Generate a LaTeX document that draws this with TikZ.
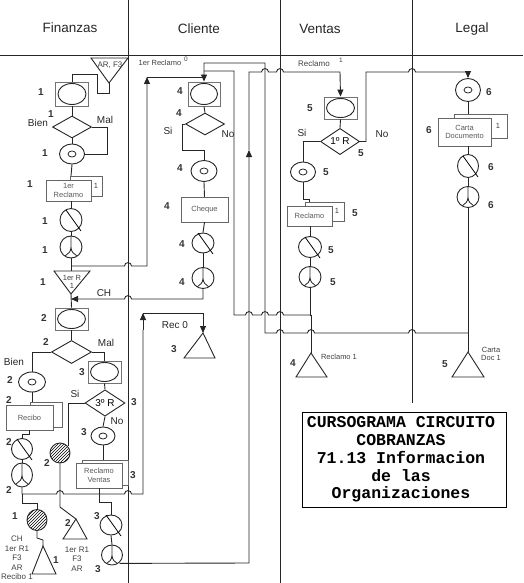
\documentclass[tikz,border=0pt]{standalone}
\usepackage{fontspec}
\setmainfont{Liberation Sans}
\newfontfamily\titlefont{Liberation Mono}
\usetikzlibrary{shapes.geometric,patterns,arrows.meta}
\tikzset{
  ln/.style={line width=0.9pt, draw=black!85},
  lane/.style={line width=0.9pt, draw=black!85},
  tip/.style={-{Triangle[length=7pt,width=6pt]}},
  lbl/.style={font=\bfseries\fontsize{10}{10}\selectfont, text=black!80, inner sep=0},
  txt/.style={font=\fontsize{10}{10}\selectfont, text=black!85, inner sep=0},
  small/.style={font=\fontsize{7.5}{8.5}\selectfont, text=black!75, inner sep=0, align=center},
  head/.style={font=\fontsize{13.5}{14}\selectfont, text=black!85},
  docbox/.style={draw=black!60, fill=white, inner sep=0, align=center, font=\fontsize{7.5}{8.5}\selectfont, text=black!65},
  copyline/.style={draw=black!60, line width=0.8pt},
  opc/.style={ellipse, draw=black!85, line width=0.9pt, fill=white, inner sep=0,
     path picture={\draw[line width=0.8pt] (path picture bounding box.center) ellipse [x radius=4, y radius=3];}},
  ycirc/.style={ellipse, draw=black!85, line width=0.9pt, fill=white, inner sep=0,
     path picture={\draw[line width=0.8pt] (path picture bounding box.north) -- (path picture bounding box.center)
        .. controls +(0,5) and +(3,-2) .. +(-6,9)
        (path picture bounding box.center) .. controls +(0,5) and +(-3,-2) .. +(6,9);}},
  scirc/.style={ellipse, draw=black!85, line width=0.9pt, fill=white, inner sep=0},
  hcirc/.style={ellipse, draw=black!85, line width=0.9pt, inner sep=0, pattern=north east lines},
  dia/.style={diamond, draw=black!85, line width=0.9pt, fill=white, inner sep=0, font=\fontsize{10}{10}\selectfont},
  hop/.style args={#1/#2}{insert path={-- (#1-3.5,#2) .. controls (#1-3.5,#2-4.5) and (#1+3.5,#2-4.5) .. (#1+3.5,#2)}},
  hopl/.style args={#1/#2}{insert path={-- (#1+3.5,#2) .. controls (#1+3.5,#2-4.5) and (#1-3.5,#2-4.5) .. (#1-3.5,#2)}},
}
\newcommand\ebox[5]{%
  \node[draw=black!55, line width=0.9pt, fill=white, minimum width=#4, minimum height=#5, inner sep=0] (#1) at (#2,#3) {};
  \node[ellipse, draw=black!85, line width=0.9pt, minimum width=#4-5, minimum height=#5-3, inner sep=0] (#1e) at (#2,#3) {};}
\newcommand\slashc[5]{%
  \node[scirc, minimum width=#4, minimum height=#5] (#1) at (#2,#3) {};
  \draw[line width=0.8pt] ([shift={(-5,-10)}]#1.center) -- ([shift={(10,11)}]#1.center);}
\begin{document}
\begin{tikzpicture}[x=1pt,y=-1pt]
\useasboundingbox (0,0) rectangle (523,583);
% lanes
\draw[lane] (0,55) -- (523,55);
\draw[lane] (128,0) -- (128,583);
\draw[lane] (280,0) -- (280,583);
\draw[lane] (412,0) -- (412,403);
\node[head] at (70,28) {Finanzas};
\node[head] at (199,29) {Cliente};
\node[head] at (320,29) {Ventas};
\node[head] at (472,29) {Legal};

% ===== Finanzas =====
\draw[ln, fill=white] (91,58) -- (128,58) -- (109,83) -- cycle;
\coordinate (arf) at (109,83);
\node[small, font=\fontsize{8}{8}\selectfont] at (110,65) {AR, F3};
\ebox{b1}{72}{94}{33}{24}
\node[lbl] at (41,92) {1};
\node[dia, minimum width=39, minimum height=22] (d1) at (72,127) {};
\node[lbl] at (51,114) {1};
\node[txt] at (38,123) {Bien};
\node[txt] at (105,120) {Mal};
\node[opc, minimum width=25, minimum height=20] (c1) at (72,154) {};
\node[lbl] at (45,153) {1};
\draw[copyline] (70,176) rectangle (102,196);
\node[small] at (96,186) {1};
\node[docbox, minimum width=45, minimum height=21] (r1) at (68.5,190.5) {1er\\Reclamo};
\node[lbl] at (30,184) {1};
\slashc{s1}{71}{220}{22}{23}
\node[lbl] at (45,221) {1};
\node[ycirc, minimum width=22, minimum height=22] (y1) at (71,247) {};
\node[lbl] at (45,250) {1};
\draw[ln, fill=white] (54,271) -- (90,271) -- (71,294) -- cycle;
\coordinate (t1top) at (71,271);
\coordinate (t1ap) at (71,294);
\node[small] at (72,278) {1er R};
\node[small] at (72,286) {1};
\node[lbl] at (43,282) {1};
\node[txt] at (104,293) {CH};

\ebox{b2}{71.5}{319}{33}{22}
\node[lbl] at (44,318) {2};
\node[dia, minimum width=40, minimum height=23] (d2) at (71.5,352) {};
\node[lbl] at (46,342) {2};
\node[txt] at (106,343) {Mal};
\node[txt] at (14,362) {Bien};
\node[opc, minimum width=27, minimum height=20] (c2) at (32,382) {};
\node[lbl] at (10,380) {2};
\ebox{b3}{104.5}{372}{33}{22}
\node[lbl] at (82,372) {3};
\node[dia, minimum width=40, minimum height=22] (d3) at (105,403) {3º R};
\node[lbl] at (134,402) {3};
\node[txt] at (75,394) {Si};
\node[txt] at (117,421) {No};
\draw[copyline] (30,402) rectangle (62,427);
\node[docbox, minimum width=47, minimum height=25] (rec) at (29.5,417.5) {Recibo};
\node[lbl] at (9,400) {2};
\node[opc, minimum width=24, minimum height=18] (c3) at (103,436) {};
\node[lbl] at (84,432) {3};
\slashc{s2}{22}{449}{21}{21}
\node[lbl] at (9,442) {2};
\node[hcirc, minimum width=20, minimum height=20] (h2) at (60,453) {};
\node[lbl] at (47,463) {2};
\draw[copyline] (82,460) rectangle (128,485);
\node[docbox, minimum width=46, minimum height=25] (rv) at (99,475.5) {Reclamo\\Ventas};
\node[lbl] at (133,475) {3};
\node[ycirc, minimum width=21, minimum height=24] (y2) at (22,475) {};
\node[lbl] at (9,490) {2};
\node[hcirc, minimum width=20, minimum height=21] (h1) at (37,520) {};
\node[lbl] at (15,516) {1};
\draw[ln, fill=white] (63,539) -- (87,539) -- (76,519) -- cycle;
\coordinate (t2ap) at (76,519);
\node[lbl] at (68,523) {2};
\node[small, font=\fontsize{8}{9.7}\selectfont] at (77,559) {1er R1\\F3\\AR};
\draw[ln, fill=white] (32,574) -- (56,574) -- (43,546) -- cycle;
\coordinate (t3ap) at (43,546);
\node[lbl] at (56,560) {1};
\node[small, font=\fontsize{8}{9.6}\selectfont] at (17,558) {CH\\1er R1\\F3\\AR\\Recibo 1};
\slashc{s3}{111}{525}{22}{20}
\node[lbl] at (97,516) {3};
\node[ycirc, minimum width=21, minimum height=20] (y3) at (112,555) {};
\node[lbl] at (98,569) {3};

% ===== Cliente =====
\node[small] at (160,63) {1er Reclamo};
\node[small, font=\fontsize{6.5}{7}\selectfont] at (186,59) {0};
\ebox{b4}{204}{94}{32}{24}
\node[lbl] at (180,91) {4};
\node[dia, minimum width=39, minimum height=22] (d4) at (205,124) {};
\node[lbl] at (179,113) {4};
\node[txt] at (168,131) {Si};
\node[txt] at (228,134) {No};
\node[opc, minimum width=26, minimum height=21] (c4) at (204,171) {};
\node[lbl] at (180,168) {4};
\node[docbox, minimum width=47, minimum height=25] (chq) at (204.5,209.5) {Cheque};
\node[lbl] at (167,206) {4};
\slashc{s4}{203}{243}{22}{20}
\node[lbl] at (182,244) {4};
\node[ycirc, minimum width=22, minimum height=21] (y4) at (203,278) {};
\node[lbl] at (182,282) {4};
\draw[ln, fill=white] (184,358) -- (215,358) -- (203,333) -- cycle;
\coordinate (t4ap) at (203,333);
\node[txt] at (175,325) {Rec 0};
\node[lbl] at (174,349) {3};

% ===== Ventas =====
\node[small, font=\fontsize{8}{8}\selectfont] at (314,64) {Reclamo};
\node[small, font=\fontsize{6.5}{7}\selectfont] at (341,60) {1};
\ebox{b5}{340.5}{108}{33}{22}
\node[lbl] at (310,108) {5};
\node[dia, minimum width=39, minimum height=23] (d5) at (340,141.5) {1º R};
\node[lbl] at (361,153) {5};
\node[txt] at (302,133) {Si};
\node[txt] at (382,134) {No};
\node[opc, minimum width=25, minimum height=20] (c5) at (303,172) {};
\node[lbl] at (326,172) {5};
\draw[copyline] (305,202) rectangle (344,221);
\node[small] at (337,211) {1};
\node[docbox, minimum width=45, minimum height=20] (rcl) at (309.5,216) {Reclamo};
\node[lbl] at (355,213) {5};
\slashc{s5}{310}{247}{23}{21}
\node[lbl] at (331,250) {5};
\node[ycirc, minimum width=22, minimum height=21] (y5) at (310,277) {};
\node[lbl] at (333,282) {5};
\draw[ln, fill=white] (296,377) -- (327,377) -- (311,353) -- cycle;
\coordinate (t5ap) at (311,353);
\node[lbl] at (293,363) {4};
\node[small] at (339,357) {Reclamo 1};

% ===== Legal =====
\node[opc, minimum width=25, minimum height=23] (c6) at (468,90) {};
\node[lbl] at (489,92) {6};
\draw[copyline] (454,114) rectangle (507,138);
\node[small] at (498,126) {1};
\node[docbox, minimum width=53, minimum height=28] (cd) at (464.5,132) {Carta\\Documento};
\node[lbl] at (429,130) {6};
\slashc{s6}{468}{166}{21}{23}
\node[lbl] at (491,167) {6};
\node[ycirc, minimum width=22, minimum height=21] (y6) at (468,197) {};
\node[lbl] at (491,205) {6};
\draw[ln, fill=white] (452,377) -- (484,377) -- (468,352) -- cycle;
\coordinate (t6ap) at (468,352);
\node[lbl] at (445,364) {5};
\node[small] at (491,354) {Carta\\Doc 1};

% ===== title =====
\node[draw, line width=0.9pt, minimum width=204, minimum height=95, inner sep=0] (title) at (404,459.5) {};
\node[font=\titlefont\bfseries\fontsize{16.5}{17.75}\selectfont, align=center, inner sep=0] at (401,459.5)
  {CURSOGRAMA CIRCUITO\\COBRANZAS\\71.13 Informacion\\de las\\Organizaciones};

% ===== connectors Finanzas =====
\draw[ln] (arf) -- (109,93) -- (97,93) -- (97,74) -- (72,74) -- (b1.north);
\draw[ln] (b1.south) -- (d1.north);
\draw[ln] (d1.south) -- (c1.north);
\draw[ln] (d1.east) -- (107,127) -- (107,154) -- (c1.east);
\draw[ln] (c1.south) -- (71,176);
\draw[ln] (r1.south -| s1.north) -- (s1.north);
\draw[ln] (s1.south) -- (y1.north);
\draw[ln] (y1.south) -- (t1top);
\coordinate (fin1) at (147,77);
\draw[ln, tip] (71,266) [hop=128/266] -- (147,266) -- (fin1);
\draw[ln] (fin1) -- (204,77);
\draw[ln] (t1ap) -- (b2.north);
\draw[ln, tip] (y4.south) -- (203,299) [hopl=128/299] -- (t1ap |- 0,299);
\draw[ln] (b2.south) -- (d2.north);
\draw[ln] (d2.west) -| (c2.north);
\draw[ln] (d2.east) -| (b3.north);
\draw[ln] (c2.south) -- (32,402);
\draw[ln] (b3.south) -- (d3.north);
\draw[ln] (d3.west) -- (68,403) -- (68,446);
\draw[ln] (d3.south) -- (c3.north);
\draw[ln] (c3.south) -- (103,460);
\draw[ln] (rec.south -| 29,0) -- (29,434) -- (22,434) -- (s2.north);
\draw[ln] (s2.south) -- (y2.north);
\coordinate (rv0) at (143,313);
\draw[ln] (y2.south) -- (22,494) [hop=60/494] [hop=128/494] -- (143,494) -- (143,330);
\draw[ln, tip] (143,330) -- (rv0);
\draw[ln, tip] (rv0) -- (203,313) -- (t4ap);
\draw[ln] (22,494) -- (22,503) -- (37,503) -- (h1.north);
\draw[ln] (h1.south) -- (37,538) -- (43,540) -- (t3ap);
\draw[ln] (h2.south) -- (60,507) -- (t2ap);
\draw[ln] (rv.south) -- (99,502) -- (111,502) -- (s3.north);
\draw[ln] (s3.south) -- (y3.north);
\coordinate (m249) at (249,150);
\draw[ln, tip] (y3.south east) ++(0,1) -- (249,563) -- (m249);
\draw[ln, tip] (m249) -- (249,72) [hop=265/72] [hop=280/72] -- (340,72) -- (b5.north);

% ===== Cliente =====
\draw[ln] (b4.south) -- (d4.north);
\draw[ln] (d4.west) -- (182,124) -- (182,150) -- (204,150) -- (c4.north);
\draw[ln] (c4.south) -- (chq.north);
\draw[ln] (chq.south) -- (s4.north);
\draw[ln] (s4.south) -- (y4.north);

% ===== Ventas =====
\draw[ln] (b5.south) -- (d5.north);
\draw[ln] (d5.west) -| (c5.north);
\draw[ln] (c5.south) -- (303,199) -- (309,199) -- (309,202);
\draw[ln] (rcl.south -| s5.north) -- (s5.north);
\draw[ln] (s5.south) -- (y5.north);
\draw[ln] (y5.south) -- (310,315) -- (311,315) -- (t5ap);
\draw[ln] (311,315) [hopl=280/315] [hopl=265/315] [hopl=249/315] -- (234,315) -- (234,71) -- (204,71);
\draw[ln, tip] (d5.east) -- (366,141.5) -- (366,72) [hop=412/72] -- (468,72) -- (c6.north);

% ===== Legal =====
\draw[ln] (c6.south) -- (468,114);
\draw[ln] (cd.south -| s6.north) -- (s6.north);
\draw[ln] (s6.south) -- (y6.north);
\draw[ln] (y6.south) -- (t6ap);
\draw[ln, tip] (468,333) [hopl=412/333] [hopl=311/333] [hopl=280/333] -- (265,333) -- (265,63) -- (204,63) -- (b4.north);
\end{tikzpicture}
\end{document}
